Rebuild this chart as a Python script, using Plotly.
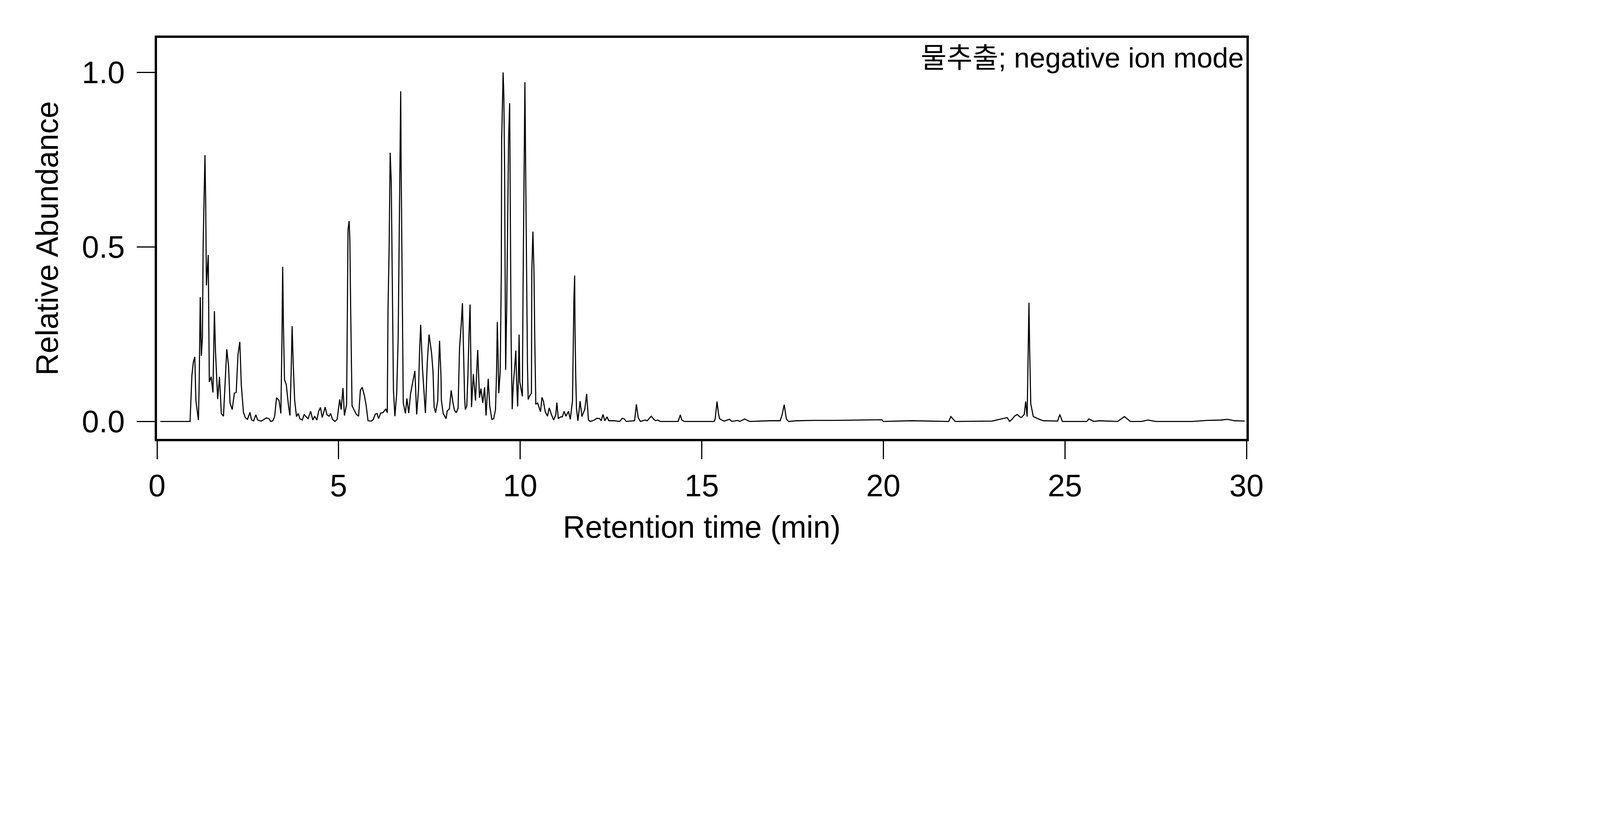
import plotly.graph_objects as go

# Retention time (min) and relative abundance
retention_time = [
    0.09, 0.91, 0.96, 1.00, 1.04, 1.07, 1.14, 1.16, 1.19, 1.22, 1.25, 1.27, 1.30, 1.32, 1.34, 1.36,
    1.41, 1.42, 1.44, 1.49, 1.54, 1.58, 1.61, 1.67, 1.72, 1.77, 1.83, 1.92, 1.97, 2.01, 2.07, 2.13,
    2.18, 2.23, 2.28, 2.32, 2.38, 2.43, 2.49, 2.56, 2.60, 2.66, 2.72, 2.77, 2.87, 3.01, 3.08, 3.13,
    3.19, 3.24, 3.29, 3.36, 3.41, 3.44, 3.46, 3.48, 3.51, 3.56, 3.62, 3.66, 3.69, 3.72, 3.75, 3.79,
    3.84, 3.89, 3.93, 4.00, 4.05, 4.10, 4.16, 4.23, 4.29, 4.34, 4.40, 4.45, 4.50, 4.55, 4.63, 4.68,
    4.74, 4.78, 4.83, 4.90, 4.96, 5.03, 5.07, 5.12, 5.16, 5.22, 5.24, 5.26, 5.29, 5.31, 5.33, 5.37,
    5.44, 5.49, 5.55, 5.60, 5.65, 5.71, 5.76, 5.81, 5.90, 5.95, 6.01, 6.06, 6.10, 6.16, 6.22, 6.30,
    6.34, 6.36, 6.39, 6.42, 6.45, 6.47, 6.51, 6.55, 6.60, 6.64, 6.67, 6.69, 6.71, 6.72, 6.75, 6.78,
    6.84, 6.88, 6.93, 6.98, 7.10, 7.15, 7.20, 7.23, 7.26, 7.31, 7.39, 7.44, 7.49, 7.56, 7.60, 7.63,
    7.67, 7.73, 7.75, 7.78, 7.82, 7.83, 7.88, 7.96, 7.99, 8.05, 8.10, 8.15, 8.19, 8.24, 8.29, 8.33,
    8.38, 8.41, 8.44, 8.47, 8.49, 8.53, 8.56, 8.59, 8.62, 8.64, 8.66, 8.71, 8.77, 8.80, 8.83, 8.88,
    8.92, 8.97, 9.02, 9.06, 9.12, 9.16, 9.22, 9.27, 9.32, 9.35, 9.37, 9.39, 9.41, 9.45, 9.48, 9.49,
    9.51, 9.53, 9.55, 9.57, 9.59, 9.60, 9.63, 9.66, 9.68, 9.71, 9.72, 9.75, 9.78, 9.81, 9.85, 9.88,
    9.90, 9.93, 9.95, 9.97, 9.99, 10.03, 10.06, 10.08, 10.10, 10.12, 10.13, 10.15, 10.17, 10.20, 10.22, 10.26,
    10.31, 10.32, 10.35, 10.38, 10.40, 10.43, 10.48, 10.56, 10.60, 10.64, 10.69, 10.75, 10.80, 10.86, 10.92, 10.98,
    11.01, 11.05, 11.11, 11.16, 11.21, 11.26, 11.33, 11.38, 11.44, 11.46, 11.48, 11.50, 11.51, 11.53, 11.55, 11.59,
    11.65, 11.70, 11.78, 11.83, 11.88, 11.93, 12.04, 12.11, 12.19, 12.23, 12.28, 12.33, 12.39, 12.44, 12.59, 12.74,
    12.81, 12.86, 12.92, 13.15, 13.20, 13.25, 13.31, 13.44, 13.50, 13.55, 13.61, 13.68, 13.73, 13.78, 13.86, 14.35,
    14.41, 14.45, 14.52, 15.34, 15.37, 15.42, 15.46, 15.49, 15.55, 15.62, 15.76, 15.83, 15.99, 16.05, 16.18, 16.32,
    16.88, 17.16, 17.21, 17.27, 17.33, 17.39, 17.62, 18.09, 18.65, 19.96, 20.00, 20.80, 21.80, 21.86, 21.98, 22.99,
    23.41, 23.48, 23.55, 23.62, 23.69, 23.77, 23.81, 23.88, 23.92, 23.96, 23.99, 24.01, 24.03, 24.06, 24.13, 24.22,
    24.32, 24.41, 24.80, 24.86, 24.93, 25.60, 25.66, 25.80, 25.95, 26.45, 26.64, 26.80, 27.10, 27.29, 27.50, 28.50,
    28.92, 29.30, 29.48, 29.67, 29.95,
]
relative_abundance = [
    0.0, 0.0, 0.132, 0.17, 0.185, 0.06, 0.004, 0.105, 0.356, 0.188, 0.24, 0.505, 0.663, 0.763, 0.625, 0.39,
    0.477, 0.37, 0.113, 0.128, 0.083, 0.316, 0.20, 0.064, 0.128, 0.023, 0.015, 0.207, 0.158, 0.053, 0.034, 0.081,
    0.083, 0.192, 0.228, 0.105, 0.026, 0.011, 0.006, 0.026, 0.005, 0.0015, 0.019, 0.004, 0.001, 0.01, 0.008, 0.0,
    0.002, 0.015, 0.068, 0.06, 0.023, 0.234, 0.443, 0.279, 0.12, 0.105, 0.045, 0.017, 0.128, 0.273, 0.166, 0.06,
    0.014, 0.023, 0.008, 0.004, 0.02, 0.014, 0.008, 0.029, 0.004, 0.015, 0.004, 0.029, 0.04, 0.011, 0.041, 0.019,
    0.015, 0.023, 0.006, 0.0, 0.006, 0.063, 0.034, 0.096, 0.017, 0.049, 0.264, 0.55, 0.574, 0.52, 0.339, 0.045,
    0.03, 0.02, 0.015, 0.09, 0.098, 0.074, 0.045, 0.002, 0.001, 0.005, 0.021, 0.023, 0.008, 0.024, 0.025, 0.036,
    0.025, 0.316, 0.49, 0.77, 0.686, 0.505, 0.09, 0.015, 0.081, 0.241, 0.558, 0.814, 0.946, 0.754, 0.392, 0.053,
    0.023, 0.066, 0.024, 0.079, 0.145, 0.02, 0.09, 0.203, 0.277, 0.151, 0.024, 0.166, 0.249, 0.196, 0.143, 0.041,
    0.025, 0.06, 0.143, 0.231, 0.128, 0.06, 0.023, 0.008, 0.03, 0.036, 0.089, 0.053, 0.032, 0.025, 0.038, 0.211,
    0.283, 0.339, 0.203, 0.068, 0.034, 0.045, 0.128, 0.249, 0.335, 0.203, 0.041, 0.136, 0.06, 0.136, 0.205, 0.068,
    0.094, 0.053, 0.098, 0.017, 0.122, 0.045, 0.006, 0.008, 0.034, 0.143, 0.285, 0.196, 0.081, 0.143, 0.422, 0.806,
    0.927, 1.0, 0.934, 0.731, 0.332, 0.148, 0.332, 0.58, 0.806, 0.912, 0.769, 0.241, 0.035, 0.105, 0.158, 0.203,
    0.121, 0.043, 0.121, 0.249, 0.113, 0.087, 0.072, 0.392, 0.656, 0.874, 0.972, 0.731, 0.482, 0.166, 0.063, 0.073,
    0.081, 0.43, 0.544, 0.43, 0.249, 0.049, 0.053, 0.028, 0.069, 0.058, 0.028, 0.015, 0.039, 0.02, 0.004, 0.019,
    0.054, 0.008, 0.013, 0.013, 0.029, 0.015, 0.029, 0.006, 0.059, 0.241, 0.354, 0.418, 0.264, 0.128, 0.038, 0.002,
    0.058, 0.014, 0.035, 0.079, 0.004, 0.0, 0.004, 0.009, 0.008, 0.002, 0.02, 0.002, 0.013, 0.002, 0.002, 0.0,
    0.009, 0.008, 0.0, 0.002, 0.049, 0.011, 0.0, 0.004, 0.002, 0.008, 0.015, 0.006, 0.002, 0.004, 0.0, 0.0,
    0.019, 0.004, 0.0, 0.0, 0.008, 0.057, 0.023, 0.008, 0.004, 0.001, 0.006, 0.0, 0.003, 0.0, 0.007, 0.0,
    0.002, 0.002, 0.018, 0.048, 0.007, 0.0, 0.002, 0.003, 0.003, 0.005, 0.0, 0.002, 0.0, 0.014, 0.0, 0.001,
    0.011, 0.0, 0.007, 0.016, 0.02, 0.012, 0.012, 0.02, 0.057, 0.014, 0.20, 0.34, 0.20, 0.05, 0.014, 0.01,
    0.005, 0.002, 0.001, 0.02, 0.0, 0.0, 0.007, 0.0, 0.002, 0.0, 0.014, 0.0, 0.0, 0.004, 0.0, 0.0,
    0.003, 0.004, 0.006, 0.002, 0.001,
]

x_tick_values = [0, 5, 10, 15, 20, 25, 30]
y_tick_values = [0.0, 0.5, 1.0]
y_tick_labels = ["0.0", "0.5", "1.0"]

x_title = "Retention time (min)"
y_title = "Relative Abundance"
annotation_text = "물추출; negative ion mode"

FONT = "Liberation Sans, Arial, Noto Sans CJK KR, sans-serif"

fig = go.Figure()
fig.add_trace(go.Scatter(
    x=retention_time, y=relative_abundance, mode="lines",
    line=dict(color="black", width=2.8), showlegend=False,
))

axis_common = dict(
    showline=True, linecolor="black", linewidth=5.5, mirror=True,
    ticks="outside", ticklen=46, tickwidth=3.4, tickcolor="black",
    showgrid=False, zeroline=False,
    tickfont=dict(family=FONT, size=79, color="black"),
)

fig.update_layout(
    width=4000, height=1400,
    margin=dict(l=394, r=817, t=89, b=284),
    paper_bgcolor="white", plot_bgcolor="white",
    xaxis=dict(range=[0, 30], tickvals=x_tick_values,
               title=dict(text=x_title, font=dict(family=FONT, size=79, color="black"), standoff=37),
               **axis_common),
    yaxis=dict(range=[-0.05, 1.099], tickvals=y_tick_values, ticktext=y_tick_labels,
               ticklabelstandoff=15,
               title=dict(text=y_title, font=dict(family=FONT, size=79, color="black"), standoff=37),
               **axis_common),
    annotations=[dict(
        text=annotation_text, xref="paper", yref="paper", x=1, y=1,
        xanchor="right", yanchor="top", xshift=-5, yshift=-9, showarrow=False,
        font=dict(family=FONT, size=72, color="black"),
    )],
)

fig.write_html("out.html")
